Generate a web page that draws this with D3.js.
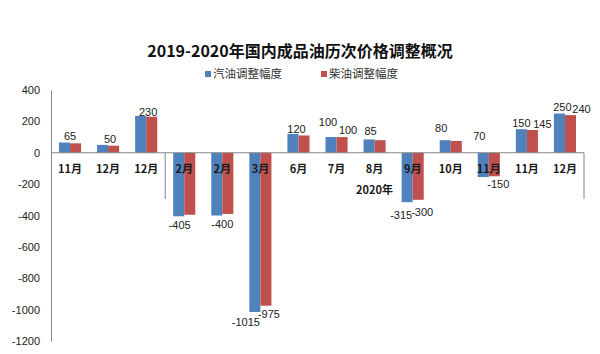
<!DOCTYPE html>
<html>
<head>
<meta charset="utf-8">
<script src="https://cdn.jsdelivr.net/npm/d3@7"></script>
<style>
  body { margin: 0; background: #fff; }
  svg { display: block; }
</style>
</head>
<body>
<svg id="chart" width="600" height="354"></svg>
<script>
// chart data
const title = '2019-2020年国内成品油历次价格调整概况';
const seriesNames = ['汽油调整幅度', '柴油调整幅度'];
const months = ['11月', '12月', '12月', '2月', '2月', '3月', '6月', '7月', '8月', '9月', '10月', '11月', '11月', '12月'];
const gasoline = [65, 50, 235, -405, -400, -1015, 120, 100, 85, -315, 80, -155, 150, 250];
const diesel = [60, 45, 230, -395, -390, -975, 110, 100, 80, -300, 75, -150, 145, 240];
const yearGroups = [{ name: '', from: 0, to: 2 }, { name: '2020年', from: 3, to: 13 }];
const yTicks = [400, 200, 0, -200, -400, -600, -800, -1000, -1200];

// data labels: category, which bar ('gas' | 'diesel' | 'both'), text shown
const dataLabels = [
  { i: 0, s: 'both', text: '65' },
  { i: 1, s: 'both', text: '50' },
  { i: 2, s: 'both', text: '230' },
  { i: 3, s: 'gas', text: '-405' },
  { i: 4, s: 'both', text: '-400' },
  { i: 5, s: 'gas', text: '-1015' },
  { i: 5, s: 'diesel', text: '-975' },
  { i: 6, s: 'both', text: '120' },
  { i: 7, s: 'gas', text: '100' },
  { i: 7, s: 'diesel', text: '100' },
  { i: 8, s: 'both', text: '85' },
  { i: 9, s: 'gas', text: '-315' },
  { i: 9, s: 'diesel', text: '-300' },
  { i: 10, s: 'gas', text: '80' },
  { i: 11, s: 'gas', text: '70' },
  { i: 11, s: 'diesel', text: '-150' },
  { i: 12, s: 'gas', text: '150' },
  { i: 12, s: 'diesel', text: '145' },
  { i: 13, s: 'gas', text: '250' },
  { i: 13, s: 'diesel', text: '240' }
];
// hand placed label nudges [dx, dy], same order as dataLabels
const labelNudge = [
  [0, 0], [2, 0], [2, 1], [1, 0], [0, 0], [-9, 1], [3, -1], [-2, 1],
  [-3, -9], [6, -1], [-4, -2], [-6, 4], [4, 3], [-4, -6], [-4, 0],
  [4, -1], [0, 0], [10, 0], [3, 0], [11, 0]
];

const COLORS = { gas: '#4F81BD', diesel: '#C0504D', axis: '#868686', text: '#1a1a1a' };
const cjk = '"Noto Sans CJK SC", "Noto Sans", sans-serif';
const num = '"Liberation Sans", Arial, sans-serif';

const svg = d3.select('#chart');
const width = +svg.attr('width');

// scales
const x0 = d3.scaleBand()
  .domain(d3.range(months.length))
  .range([51, 584])
  .paddingInner(0.42)
  .paddingOuter(0.21);

const x1 = d3.scaleBand()
  .domain(['gas', 'diesel'])
  .range([0, x0.bandwidth()]);

const y = d3.scaleLinear()
  .domain([-1200, 400])
  .range([341, 90]);

// title
svg.append('text')
  .attr('x', width / 2)
  .attr('y', 57)
  .attr('text-anchor', 'middle')
  .attr('font-family', cjk)
  .attr('font-size', 16)
  .attr('font-weight', 'bold')
  .attr('fill', '#111')
  .text(title);

// legend
const legend = svg.append('g').attr('font-family', cjk).attr('font-size', 11.5).attr('fill', '#333');
[[205, 'gas'], [321, 'diesel']].forEach(([lx, key], k) => {
  legend.append('rect')
    .attr('x', lx).attr('y', 71).attr('width', 6).attr('height', 6)
    .attr('fill', COLORS[key]);
  legend.append('text')
    .attr('x', lx + 8).attr('y', 78)
    .text(seriesNames[k]);
});

// y axis
const yAxis = svg.append('g')
  .attr('transform', 'translate(51,0)')
  .call(d3.axisLeft(y).tickValues(yTicks).tickFormat(d => String(d)).tickSize(0).tickPadding(11));
yAxis.select('.domain').attr('stroke', COLORS.axis);
yAxis.selectAll('text')
  .attr('font-family', num)
  .attr('font-size', 11)
  .attr('fill', '#222');

// bars
const rows = months.map((m, i) => ({ i, gas: gasoline[i], diesel: diesel[i] }));
const groups = svg.append('g')
  .selectAll('g')
  .data(rows)
  .enter()
  .append('g')
  .attr('transform', d => `translate(${x0(d.i)},0)`);

groups.selectAll('rect')
  .data(d => ['gas', 'diesel'].map(key => ({ key, value: d[key] })))
  .enter()
  .append('rect')
  .attr('x', d => x1(d.key))
  .attr('y', d => y(Math.max(0, d.value)))
  .attr('width', x1.bandwidth())
  .attr('height', d => Math.abs(y(d.value) - y(0)))
  .attr('fill', d => COLORS[d.key]);

// x axis line at zero
svg.append('line')
  .attr('x1', 51).attr('x2', 584)
  .attr('y1', y(0)).attr('y2', y(0))
  .attr('stroke', COLORS.axis);

// group dividers (multi-level category axis)
yearGroups.forEach(g => {
  const edge = x0(g.to) - x0.step() * x0.paddingInner() / 2 + x0.step();
  svg.append('line')
    .attr('x1', edge).attr('x2', edge)
    .attr('y1', y(0)).attr('y2', 199)
    .attr('stroke', COLORS.axis);
  if (g.name) {
    const start = x0(g.from) - x0.step() * x0.paddingInner() / 2;
    svg.append('text')
      .attr('x', (start + edge) / 2)
      .attr('y', 194)
      .attr('text-anchor', 'middle')
      .attr('font-family', cjk)
      .attr('font-size', 11)
      .attr('font-weight', 'bold')
      .attr('fill', COLORS.text)
      .text(g.name);
  }
});

// category labels
svg.append('g')
  .selectAll('text')
  .data(months)
  .enter()
  .append('text')
  .attr('x', (d, i) => x0(i) + x0.bandwidth() / 2)
  .attr('y', 173)
  .attr('text-anchor', 'middle')
  .attr('font-family', cjk)
  .attr('font-size', 11)
  .attr('font-weight', 'bold')
  .attr('fill', COLORS.text)
  .text(d => d);

// data labels, anchored at the value they show
svg.append('g')
  .selectAll('text')
  .data(dataLabels)
  .enter()
  .append('text')
  .attr('x', (d, k) => {
    const base = d.s === 'both'
      ? x0(d.i) + x0.bandwidth() / 2
      : x0(d.i) + x1(d.s) + x1.bandwidth() / 2;
    return base + labelNudge[k][0];
  })
  .attr('y', (d, k) => {
    const v = +d.text;
    return (v >= 0 ? y(v) - 6 : y(v) + 9) + labelNudge[k][1];
  })
  .attr('dy', '0.35em')
  .attr('text-anchor', 'middle')
  .attr('font-family', num)
  .attr('font-size', 11)
  .attr('fill', '#222')
  .text(d => d.text);
</script>
</body>
</html>
